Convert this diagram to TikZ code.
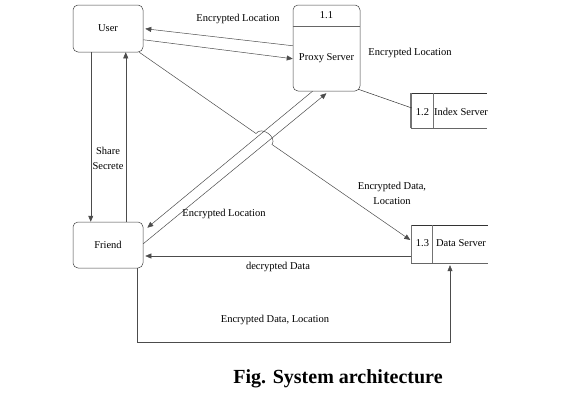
\documentclass[tikz,border=0pt]{standalone}
\usepackage{fontspec}
\setmainfont{Liberation Serif}
\usetikzlibrary{arrows.meta,calc}
\begin{document}
\begin{tikzpicture}[x=1pt,y=-1pt,
  box/.style={draw=black!75, rounded corners=5pt, minimum width=70pt, inner sep=0pt, line width=0.5pt},
  store/.style={inner sep=0pt, minimum width=76pt},
  lbl/.style={font=\fontsize{10.5}{15}\selectfont, inner sep=1pt, align=center},
  arr/.style={draw=black!70, line width=0.5pt, -{Triangle[length=6pt,width=5pt]}},
  ln/.style={draw=black!80, line width=0.5pt},
  thickedge/.style={draw=black!55, line width=1.6pt},
]
\useasboundingbox (0,0) rectangle (587,402);
% boxes
\node[box, minimum height=47pt] (user) at (108,28.5) {};
\node[lbl] (usert) at (user.center) {User};
\node[box, minimum height=46pt] (friend) at (108,245) {};
\node[lbl] (friendt) at (friend.center) {Friend};
\node[box, minimum width=67pt, minimum height=86pt] (proxy) at (326.5,48) {};
\draw[draw=black!60, line width=1pt] ($(proxy.north west)+(0,22)$) -- ($(proxy.north east)+(0,22)$);
\node[lbl] (pnum) at (326.5,15) {1.1};
\node[lbl] (pname) at (326.5,58.5) {Proxy Server};
% index store
\node[store, minimum height=35pt] (idx) at (449,110.5) {};
\draw[ln] (idx.north west) -- (idx.north east);
\draw[draw=black!60, line width=1pt] (idx.south west) -- (idx.south east);
\draw[draw=black!55, line width=0.6pt] ($(idx.north west)+(22,0)$) -- ($(idx.south west)+(22,0)$);
\draw[thickedge] (idx.north west) -- (idx.south west);
\node[lbl] (inum) at (422.5,112) {1.2};
\node[lbl] (iname) at (461,112) {Index Server};
% data store
\node[store, minimum height=38pt] (data) at (449.5,244) {};
\draw[ln] (data.north west) -- (data.north east);
\draw[draw=black!60, line width=1pt] (data.south west) -- (data.south east);
\draw[draw=black!55, line width=0.6pt] ($(data.north west)+(21,0)$) -- ($(data.south west)+(21,0)$);
\draw[thickedge] (data.north west) -- (data.south west);
\node[lbl] (dnum) at (422.5,243) {1.3};
\node[lbl] (dname) at (461,243) {Data Server};
% connectors user <-> proxy
\draw[arr] ($(proxy.north west)+(0,41)$) -- ($(user.north east)+(2,24)$);
\draw[arr] ($(user.north east)+(0,35)$) -- ($(proxy.north west)+(0,54)$);
\node[lbl] (l1) at (238,19) {Encrypted Location};
% proxy - index
\draw[ln] ($(proxy.south east)+(-2,-2)$) -- ($(idx.west)+(1,-2.5)$);
\node[lbl] (l2) at (410,53) {Encrypted Location};
% user <-> friend
\draw[arr] ($(user.south west)+(18,0)$) -- ($(friend.north west)+(18,0)$);
\draw[arr] ($(friend.north west)+(53,0)$) -- ($(user.south west)+(53,0)$);
\node[lbl] (l3) at (108,158) {Share\\Secrete};
% proxy <-> friend (double)
\draw[arr] ($(proxy.south)+(-14,0)$) -- ($(friend.north east)+(4,6)$);
\draw[arr] ($(friend.north east)+(0,22)$) -- ($(proxy.south)+(0,2)$);
\node[lbl] (l4) at (224,214) {Encrypted Location};
% user -> data with hop
\coordinate (h1) at (256,133.5);
\coordinate (h2) at (272,144.5);
\draw[arr] ($(user.south east)+(-4,0)$) -- (h1) .. controls (261.3,125.8) and (277.3,136.8) .. (h2) -- ($(data.west)+(-1,-4)$);
\node[lbl] (l5) at (392,193.5) {Encrypted Data,\\Location};
% data -> friend
\draw[arr] ($(data.west)+(0,12)$) -- ($(friend.east)+(2,11)$);
\node[lbl] (l6) at (278,267) {decrypted Data};
% friend -> data
\draw[arr] ($(friend.south west)+(64,0)$) |- ($(data.south)+(0.5,79)$) -- ($(data.south)+(0.5,2)$);
\node[lbl] (l7) at (275,320) {Encrypted Data, Location};
% caption
\node[font=\fontsize{20}{24}\selectfont\bfseries, inner sep=0pt] (cap) at (338,379) {Fig. System architecture};
\end{tikzpicture}
\end{document}
